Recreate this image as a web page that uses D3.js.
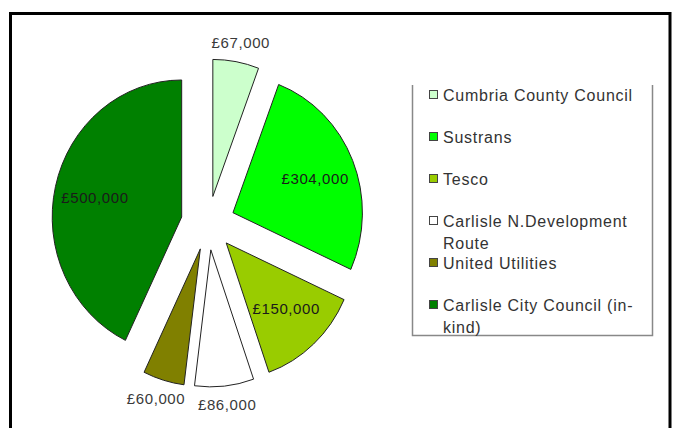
<!DOCTYPE html>
<html>
<head>
<meta charset="utf-8">
<script src="https://cdn.jsdelivr.net/npm/d3@7"></script>
<style>
  body { margin: 0; background: #fff; }
  svg { display: block; font-family: "Liberation Sans", Arial, sans-serif; }
</style>
</head>
<body>
<div id="chart"></div>
<script>
// Data ------------------------------------------------------------------------
const categories = [
  "Cumbria County Council",
  "Sustrans",
  "Tesco",
  "Carlisle N.Development Route",
  "United Utilities",
  "Carlisle City Council (in-kind)"
];
const values = [67000, 304000, 150000, 86000, 60000, 500000];
const valueLabels = ["£67,000", "£304,000", "£150,000", "£86,000", "£60,000", "£500,000"];
const colors = ["#ccffcc", "#00ff00", "#99cc00", "#ffffff", "#808000", "#008000"];
// legend text split into lines as in the picture
const legendLines = [
  ["Cumbria County Council"],
  ["Sustrans"],
  ["Tesco"],
  ["Carlisle N.Development", "Route"],
  ["United Utilities"],
  ["Carlisle City Council (in-", "kind)"]
];

// Canvas ----------------------------------------------------------------------
const width = 674;
const height = 428;

const svg = d3.select("#chart")
  .append("svg")
  .attr("width", width)
  .attr("height", height);

// outer frame (bottom edge runs off the picture)
svg.append("path")
  .attr("d", "M10.5,520 V13.5 H670 V520")
  .style("fill", "none")
  .style("stroke", "#000")
  .style("stroke-width", 3);

// Pie -------------------------------------------------------------------------
const cx = 208;
const cy = 223;
const radius = 137;
const squeeze = 0.945; // the pie is drawn a little narrower than tall
const explode = 27;

const pie = d3.pie().sort(null).value(d => d);
const arcs = pie(values);
const arc = d3.arc().innerRadius(0).outerRadius(radius);

const pieGroup = svg.append("g")
  .attr("transform", "translate(" + cx + "," + cy + ")");

const slices = pieGroup.selectAll("g.slice")
  .data(arcs)
  .join("g")
  .attr("class", "slice")
  .attr("transform", function(d) {
    const a = (d.startAngle + d.endAngle) / 2;
    return "translate(" + (Math.sin(a) * explode) + "," + (-Math.cos(a) * explode) + ")";
  });

slices.append("path")
  .attr("d", arc)
  .attr("transform", "scale(" + squeeze + ",1)")
  .style("fill", (d, i) => colors[i])
  .style("stroke", "#222")
  .style("stroke-width", 1)
  .style("vector-effect", "non-scaling-stroke");

slices.append("text")
  .text((d, i) => valueLabels[i])
  .attr("x", function(d) {
    const a = (d.startAngle + d.endAngle) / 2;
    const r = (d.endAngle - d.startAngle) > 0.6 ? 89 : radius + 19;
    return Math.sin(a) * r;
  })
  .attr("y", function(d) {
    const a = (d.startAngle + d.endAngle) / 2;
    const r = (d.endAngle - d.startAngle) > 0.6 ? 89 : radius + 19;
    return -Math.cos(a) * r;
  })
  .style("text-anchor", "middle")
  .style("dominant-baseline", "central")
  .style("font-size", "15px")
  .style("letter-spacing", "0.6px")
  .style("fill", d => (d.endAngle - d.startAngle) > 0.6 ? "#1a1a1a" : "#3a3a3a");

// Legend ----------------------------------------------------------------------
const legendLeft = 412;
const legendRight = 652;
const legendTop = 85;
const legendBottom = 335;

svg.append("path")
  .attr("d", "M" + (legendLeft + 0.5) + "," + legendTop + " V" + (legendBottom + 0.5) +
    " H" + (legendRight + 0.5) + " V" + legendTop)
  .style("fill", "none")
  .style("stroke", "#888")
  .style("stroke-width", 1.5);

const itemY = d3.scalePoint()
  .domain(categories)
  .range([95, 305]);

const legendItems = svg.selectAll("g.legend-item")
  .data(categories)
  .join("g")
  .attr("class", "legend-item")
  .attr("transform", d => "translate(" + legendLeft + "," + itemY(d) + ")");

legendItems.append("rect")
  .attr("x", 17.5)
  .attr("y", -4.5)
  .attr("width", 8)
  .attr("height", 8)
  .style("fill", (d, i) => colors[i])
  .style("stroke", "#444")
  .style("stroke-width", 1);

legendItems.append("text")
  .attr("x", 31)
  .attr("y", 0)
  .style("font-size", "16px")
  .style("letter-spacing", "0.75px")
  .style("fill", "#333")
  .selectAll("tspan")
  .data((d, i) => legendLines[i])
  .join("tspan")
  .attr("x", 31)
  .attr("dy", (d, j) => j === 0 ? "0.35em" : "22px")
  .text(d => d);
</script>
</body>
</html>
